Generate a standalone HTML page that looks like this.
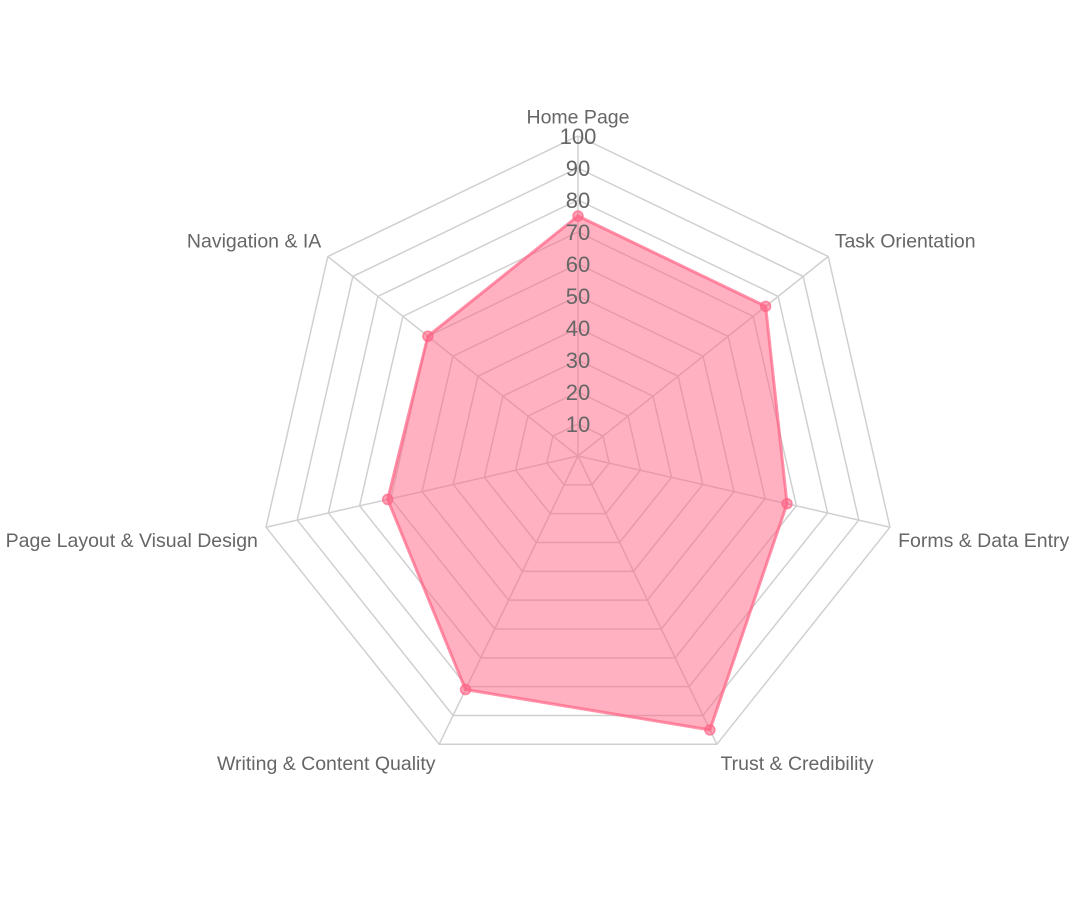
<!DOCTYPE html>
<html><head><meta charset="utf-8"><style>
html,body{margin:0;padding:0;background:#fff;}
svg{display:block;font-family:"Liberation Sans",Arial,sans-serif;}
</style></head><body>
<svg id="chart" width="1078" height="908" viewBox="0 0 1078 908" xmlns="http://www.w3.org/2000/svg">
<g id="grid"></g>
<g id="series"></g>
<g id="ticks"></g>
<g id="labels"></g>
</svg>
<script>
const categories = ["Home Page","Task Orientation","Forms & Data Entry","Trust & Credibility","Writing & Content Quality","Page Layout & Visual Design","Navigation & IA"];
const scores = [75, 75, 67, 95, 81, 61, 60];
const tickValues = [10,20,30,40,50,60,70,80,90,100];
const scaleMax = 100;

const NS = "http://www.w3.org/2000/svg";
const cx = 578, cy = 456, R = 320;
const n = categories.length;
function rScale(v){ return v / scaleMax * R; }
function pt(i, v){
  const a = i * 2 * Math.PI / n;
  const r = rScale(v);
  return [cx + r * Math.sin(a), cy - r * Math.cos(a)];
}
function mk(tag, attrs, parent){
  const e = document.createElementNS(NS, tag);
  for (const k in attrs) e.setAttribute(k, attrs[k]);
  parent.appendChild(e);
  return e;
}
const grid = document.getElementById("grid");
tickValues.forEach(t => {
  const pts = categories.map((c,i) => pt(i,t).join(",")).join(" ");
  const ring = mk("polygon", {points: pts, fill: "none", stroke: "#d0d0d0", "stroke-width": 1.5}, grid);
  
  
});
categories.forEach((c,i) => {
  const p = pt(i, scaleMax);
  const sp = mk("line", {x1: cx, y1: cy, x2: p[0], y2: p[1], stroke: "#d0d0d0", "stroke-width": 1.5}, grid);
  
  
});
const series = document.getElementById("series");
const poly = mk("polygon", {points: scores.map((v,i) => pt(i,v).join(",")).join(" "), fill: "rgba(255,99,132,0.5)", stroke: "rgba(255,99,132,0.7)", "stroke-width": 3}, series);


scores.forEach((v,i) => {
  const p = pt(i,v);
  const c = mk("circle", {cx: p[0], cy: p[1], r: 5, fill: "rgba(255,99,132,0.6)", stroke: "rgba(255,99,132,0.7)", "stroke-width": 1.5}, series);
  
  
});
const ticks = document.getElementById("ticks");
tickValues.forEach(t => {
  const tx = mk("text", {x: cx, y: cy - rScale(t) + 8, "text-anchor": "middle", "font-size": 22, fill: "#666"}, ticks);
  tx.textContent = t;
  
  
});
const labels = document.getElementById("labels");
categories.forEach((c,i) => {
  const p = pt(i, scaleMax + 2.6);
  const a = i * 360 / n;
  let anchor = "middle", dy = -4;
  if (i !== 0) {
    anchor = a < 180 ? "start" : "end";
    dy = (Math.cos(a*Math.PI/180) > 0) ? -4 : 18;
  }
  const tx = mk("text", {x: p[0], y: p[1] + dy, "text-anchor": anchor, "font-size": 19.5, fill: "#666"}, labels);
  tx.textContent = c;
  
  
});
</script>
</body></html>
